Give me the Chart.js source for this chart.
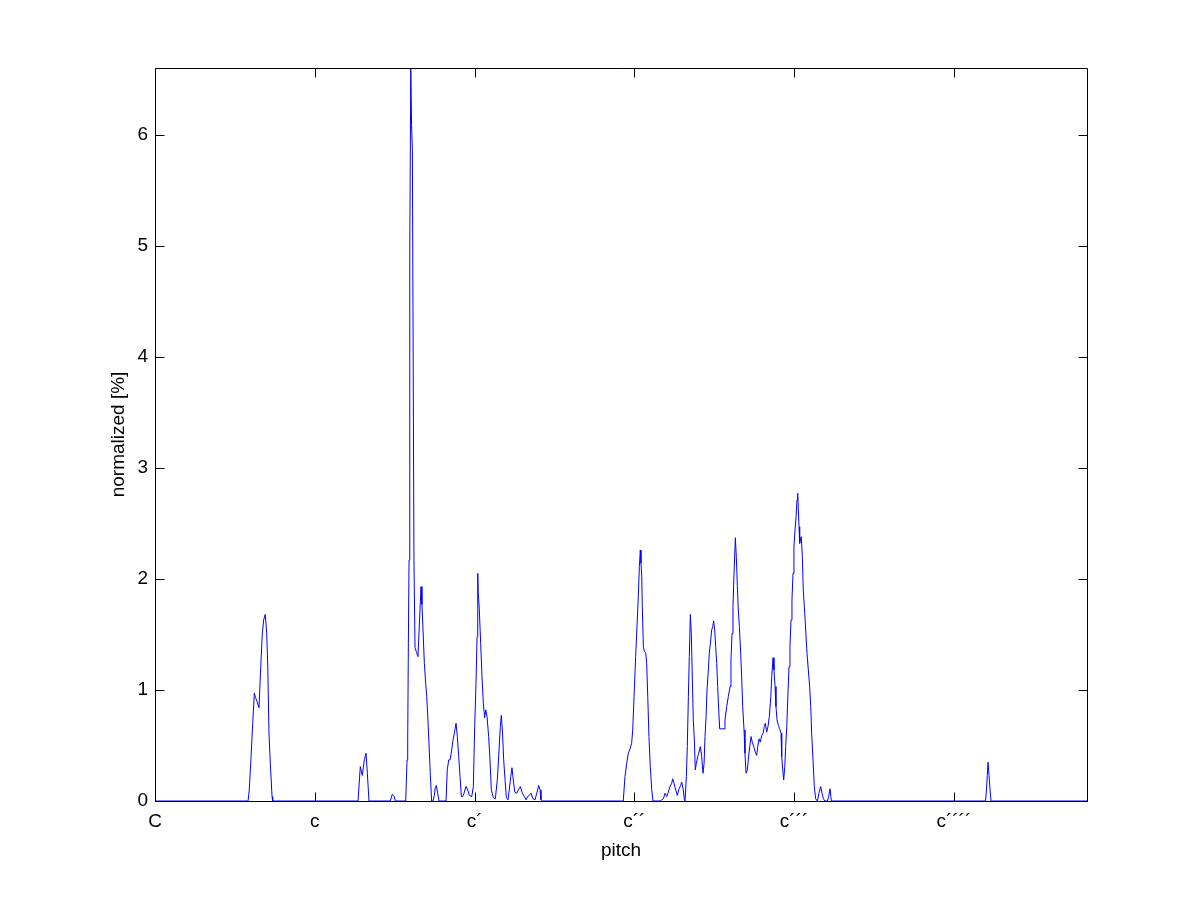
<!DOCTYPE html>
<html>
<head>
<meta charset="utf-8">
<script src="https://cdn.jsdelivr.net/npm/chart.js@4.4.1/dist/chart.umd.min.js"></script>
<style>
html,body{margin:0;padding:0;background:#fff;}
canvas{display:block;}
</style>
</head>
<body>
<canvas id="c" width="1201" height="901"></canvas>
<script>
// pitch position in semitones above C
const pitch = [0, 6.99, 7.08, 7.19, 7.34, 7.46, 7.56, 7.68, 7.81, 7.94, 8.06, 8.16, 8.28, 8.39, 8.47, 8.56, 8.66, 8.79, 8.84,
  15.25, 15.42, 15.57, 15.72, 15.85, 15.95, 16.07,
  17.67, 17.82, 17.97, 18.05,
  18.83, 18.93, 18.98, 19.03, 19.08, 19.12, 19.15, 19.21, 19.27, 19.33, 19.45, 19.53, 19.64, 19.75, 19.87, 19.98, 20.05, 20.13, 20.23, 20.33, 20.41, 20.50, 20.60, 20.68, 20.78, 20.88, 20.98, 21.05, 21.13, 21.23, 21.33,
  21.86, 21.95, 22.06, 22.16, 22.25, 22.36, 22.48, 22.61, 22.71, 22.81, 22.91, 23.01, 23.11, 23.21, 23.36, 23.49, 23.61, 23.79, 23.91, 24.01, 24.11, 24.19, 24.24, 24.28, 24.36, 24.46, 24.56, 24.66, 24.76, 24.84, 24.94, 25.06, 25.16, 25.26, 25.41, 25.56, 25.71, 25.84, 25.94, 26.01, 26.09, 26.19, 26.29, 26.39, 26.51, 26.61, 26.72, 26.81, 26.91, 27.02, 27.17, 27.29, 27.44, 27.56, 27.74, 27.87, 27.99, 28.11, 28.24, 28.39, 28.54, 28.67, 28.82, 28.92, 28.99, 29.12,
  35.17, 35.30, 35.43, 35.55, 35.68, 35.80, 35.88, 35.98, 36.10, 36.20, 36.30, 36.38, 36.45, 36.50, 36.56, 36.60, 36.68, 36.75, 36.86, 36.93, 37.01, 37.10, 37.20, 37.31, 37.40,
  37.93, 38.06, 38.18, 38.31, 38.43, 38.55, 38.68, 38.81, 38.88, 38.98, 39.11, 39.23, 39.36, 39.48, 39.56, 39.68, 39.76, 39.81, 39.91, 39.98, 40.06, 40.13, 40.21, 40.28, 40.36, 40.43, 40.51, 40.58, 40.66, 40.76, 40.86, 40.96, 41.06, 41.16, 41.24, 41.31, 41.39, 41.46, 41.56, 41.63, 41.74, 41.81, 41.89, 41.96, 42.04, 42.11, 42.19, 42.26, 42.34, 42.41, 42.56, 42.74, 42.81, 42.94, 43.06, 43.19, 43.26, 43.34, 43.41, 43.49, 43.59, 43.66, 43.74, 43.81, 43.89, 43.99, 44.07, 44.14, 44.24, 44.31, 44.39, 44.49, 44.56, 44.67, 44.77, 44.86, 44.97, 45.09, 45.19, 45.27, 45.37, 45.46, 45.57, 45.67, 45.76, 45.84, 45.94, 46.04, 46.14, 46.25, 46.32, 46.42, 46.49, 46.57, 46.64, 46.72, 46.82, 46.92, 47.02, 47.07, 47.15, 47.22, 47.30, 47.37, 47.45, 47.54, 47.62, 47.69, 47.77, 47.84, 47.92, 47.99, 48.07, 48.15, 48.22, 48.27, 48.32, 48.37, 48.42, 48.47, 48.54, 48.62, 48.69, 48.80, 48.90, 48.97, 49.07, 49.17, 49.25, 49.32, 49.42, 49.52, 49.62, 49.75, 49.87, 50.00, 50.10, 50.20, 50.32, 50.50, 50.60, 50.70, 50.80,
  62.38, 62.45, 62.51, 62.57, 62.64, 62.72, 62.79, 70];

// normalized share in percent
const normalized = [0, 0, 0.10, 0.34, 0.70, 0.97, 0.93, 0.89, 0.84, 1.20, 1.51, 1.63, 1.68, 1.51, 1.21, 0.61, 0.34, 0.04, 0,
  0, 0.31, 0.23, 0.37, 0.43, 0.25, 0,
  0, 0.06, 0.04, 0,
  0, 0.37, 0.55, 1.42, 2.17, 3.61, 4.96, 6.60, 6.09, 5.86, 2.17, 1.38, 1.34, 1.30, 1.63, 1.93, 1.77, 1.54, 1.24, 1.06, 0.94, 0.73, 0.46, 0.23, 0, 0, 0.05, 0.12, 0.14, 0.07, 0,
  0, 0.28, 0.37, 0.37, 0.43, 0.53, 0.61, 0.70, 0.58, 0.40, 0.22, 0.04, 0.04, 0.07, 0.13, 0.10, 0.05, 0.04, 0.13, 0.67, 1.06, 1.48, 2.05, 1.87, 1.72, 1.42, 1.12, 0.88, 0.75, 0.82, 0.76, 0.58, 0.37, 0.10, 0.03, 0.02, 0.19, 0.46, 0.67, 0.77, 0.64, 0.37, 0.19, 0.03, 0.01, 0.10, 0.22, 0.30, 0.19, 0.08, 0.07, 0.10, 0.13, 0.08, 0.04, 0.01, 0.04, 0.05, 0.07, 0.02, 0.01, 0.07, 0.14, 0.10, 0.01, 0,
  0, 0.22, 0.34, 0.43, 0.47, 0.52, 0.64, 0.94, 1.30, 1.57, 1.84, 2.11, 2.26, 2.14, 2.02, 1.75, 1.39, 1.35, 1.33, 1.24, 0.94, 0.58, 0.31, 0.10, 0,
  0, 0.01, 0.02, 0.07, 0.04, 0.08, 0.13, 0.16, 0.20, 0.16, 0.10, 0.05, 0.11, 0.14, 0.17, 0.10, 0.01, 0, 0.22, 0.49, 0.94, 1.30, 1.68, 1.51, 1.09, 0.73, 0.55, 0.28, 0.34, 0.40, 0.44, 0.49, 0.40, 0.25, 0.34, 0.58, 0.76, 1.00, 1.18, 1.33, 1.45, 1.54, 1.57, 1.62, 1.54, 1.39, 1.24, 1.03, 0.82, 0.65, 0.65, 0.65, 0.73, 0.85, 0.94, 1.03, 1.27, 1.51, 1.75, 2.05, 2.37, 2.20, 1.93, 1.72, 1.57, 1.33, 1.09, 0.85, 0.64, 0.43, 0.25, 0.28, 0.37, 0.49, 0.58, 0.53, 0.49, 0.44, 0.41, 0.49, 0.56, 0.53, 0.59, 0.61, 0.67, 0.70, 0.62, 0.67, 0.76, 0.94, 1.12, 1.29, 1.18, 1.03, 0.85, 0.73, 0.68, 0.65, 0.61, 0.40, 0.28, 0.19, 0.31, 0.49, 0.67, 0.97, 1.21, 1.39, 1.63, 1.81, 2.05, 2.29, 2.44, 2.56, 2.71, 2.77, 2.62, 2.47, 2.32, 2.35, 2.38, 2.20, 1.90, 1.69, 1.48, 1.33, 1.18, 1.03, 0.85, 0.61, 0.37, 0.13, 0.02, 0, 0.07, 0.13, 0.07, 0.02, 0, 0, 0.04, 0.11, 0,
  0, 0.10, 0.23, 0.35, 0.23, 0.10, 0, 0];

const octaveTicks = [0, 12, 24, 36, 48, 60];
const octaveLabels = ['C', 'c', 'c\u00b4', 'c\u00b4\u00b4', 'c\u00b4\u00b4\u00b4', 'c\u00b4\u00b4\u00b4\u00b4'];
const yTicks = [0, 1, 2, 3, 4, 5, 6];
const xMax = 70;
const yMax = 6.6;

const FONT = '"Liberation Sans", Arial, Helvetica, sans-serif';

const frame = {
  id: 'frame',
  afterDraw(chart) {
    const {ctx, chartArea: {left, right, top, bottom}, scales: {x, y}} = chart;
    const L = Math.round(left) + 0.5, R = Math.round(right) + 0.5;
    const T = Math.round(top) + 0.5, B = Math.round(bottom) + 0.5;
    const tl = 9;
    ctx.save();
    ctx.strokeStyle = '#000';
    ctx.lineWidth = 1;
    ctx.beginPath();
    ctx.rect(L, T, R - L, B - T);
    x.ticks.forEach(t => {
      const px = Math.round(x.getPixelForValue(t.value)) + 0.5;
      ctx.moveTo(px, B); ctx.lineTo(px, B - tl);
      ctx.moveTo(px, T); ctx.lineTo(px, T + tl);
    });
    y.ticks.forEach(t => {
      const py = Math.round(y.getPixelForValue(t.value)) + 0.5;
      ctx.moveTo(L, py); ctx.lineTo(L + tl, py);
      ctx.moveTo(R, py); ctx.lineTo(R - tl, py);
    });
    ctx.stroke();
    ctx.restore();
  }
};

new Chart(document.getElementById('c'), {
  type: 'line',
  data: {
    datasets: [{
      data: pitch.map((p, i) => ({x: p, y: normalized[i]})),
      borderColor: 'rgb(0,0,255)',
      borderWidth: 1,
      pointRadius: 0,
      tension: 0,
      fill: false
    }]
  },
  options: {
    responsive: false,
    animation: false,
    devicePixelRatio: 1,
    layout: {padding: {left: 0, top: 68, right: 114, bottom: 0}},
    plugins: {legend: {display: false}, tooltip: {enabled: false}},
    scales: {
      x: {
        type: 'linear',
        min: 0,
        max: xMax,
        afterBuildTicks: s => { s.ticks = octaveTicks.map(v => ({value: v})); },
        afterFit: s => { s.height = 100; },
        grid: {display: false, drawTicks: false},
        border: {display: false},
        ticks: {
          autoSkip: false, maxRotation: 0, padding: 9,
          color: '#000', font: {family: FONT, size: 19},
          callback: (v, i) => octaveLabels[i]
        },
        title: {display: true, text: 'pitch', color: '#000', font: {family: FONT, size: 19}, padding: {top: 0, bottom: 39}}
      },
      y: {
        type: 'linear',
        min: 0,
        max: yMax,
        afterBuildTicks: s => { s.ticks = yTicks.map(v => ({value: v})); },
        afterFit: s => { s.width = 155; },
        grid: {display: false, drawTicks: false},
        border: {display: false},
        ticks: {padding: 7, color: '#000', font: {family: FONT, size: 19}, callback: v => String(v)},
        title: {display: true, text: 'normalized [%]', color: '#000', font: {family: FONT, size: 19}, padding: {top: 107, bottom: 0}}
      }
    }
  },
  plugins: [frame]
});
</script>
</body>
</html>
